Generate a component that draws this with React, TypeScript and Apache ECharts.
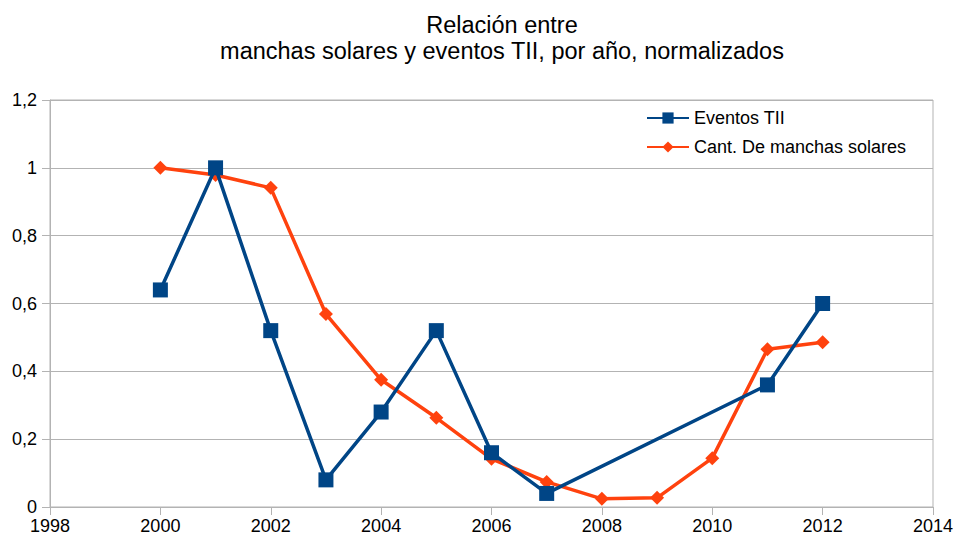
import React, { useEffect, useRef } from "react";
import * as echarts from "echarts";

const years = [2000, 2001, 2002, 2003, 2004, 2005, 2006, 2007, 2008, 2009, 2010, 2011, 2012];
const eventosTII: (number | null)[] = [0.64, 1.0, 0.52, 0.08, 0.28, 0.52, 0.16, 0.04, null, null, null, 0.36, 0.6];
const manchas: number[] = [1.0, 0.979, 0.941, 0.569, 0.375, 0.263, 0.142, 0.074, 0.024, 0.027, 0.144, 0.465, 0.486];
const titleText = "Relación entre\nmanchas solares y eventos TII, por año, normalizados";
const seriesNames = ["Eventos TII", "Cant. De manchas solares"];

export default function App() {
  const ref = useRef<HTMLDivElement>(null);
  useEffect(() => {
    if (!ref.current) return;
    const chart = echarts.init(ref.current, undefined, { renderer: "svg" });
    const font = "'Liberation Sans', Arial, sans-serif";
    chart.setOption({
      animation: false,
      backgroundColor: "#ffffff",
      title: {
        text: titleText,
        left: 497,
        textAlign: "center",
        top: 7,
        textStyle: { fontFamily: font, fontSize: 23.5, fontWeight: "normal", color: "#000", lineHeight: 26 },
      },
      legend: {
        orient: "vertical",
        left: 641,
        top: 104,
        itemWidth: 42,
        itemHeight: 14,
        itemGap: 11,
        textStyle: { fontFamily: font, fontSize: 18, color: "#000" },
        data: seriesNames,
      },
      grid: { left: 50, right: 28, top: 100, bottom: 33, show: true, borderColor: "#b3b3b3", borderWidth: 1 },
      xAxis: {
        type: "value",
        min: 1998,
        max: 2014,
        interval: 2,
        axisLine: { show: true, lineStyle: { color: "#b3b3b3", width: 1 } },
        axisTick: { show: true, length: 8, lineStyle: { color: "#b3b3b3" } },
        splitLine: { show: false },
        axisLabel: { fontFamily: font, fontSize: 18, color: "#000", margin: 10, formatter: (v: number) => String(v) },
      },
      yAxis: {
        type: "value",
        min: 0,
        max: 1.2,
        interval: 0.2,
        axisLine: { show: true, lineStyle: { color: "#b3b3b3", width: 1 } },
        axisTick: { show: true, length: 8, lineStyle: { color: "#b3b3b3" } },
        splitLine: { show: true, lineStyle: { color: "#b3b3b3", width: 1 } },
        axisLabel: {
          fontFamily: font,
          fontSize: 18,
          color: "#000",
          margin: 13,
          formatter: (v: number) => String(Math.round(v * 10) / 10).replace(".", ","),
        },
      },
      series: [
        {
          name: seriesNames[0],
          type: "line",
          data: years.map((y, i) => [y, eventosTII[i]]).filter((d) => d[1] !== null),
          symbol: "rect",
          symbolSize: 15,
          itemStyle: { color: "#004586" },
          lineStyle: { color: "#004586", width: 3.5 },
          z: 3,
        },
        {
          name: seriesNames[1],
          type: "line",
          data: years.map((y, i) => [y, manchas[i]]),
          symbol: "diamond",
          symbolSize: 14,
          itemStyle: { color: "#ff420e" },
          lineStyle: { color: "#ff420e", width: 3.5 },
          z: 2,
        },
      ],
    });
    return () => chart.dispose();
  }, []);
  return <div ref={ref} style={{ width: 961, height: 540, position: "absolute", left: 0, top: 0 }} />;
}
